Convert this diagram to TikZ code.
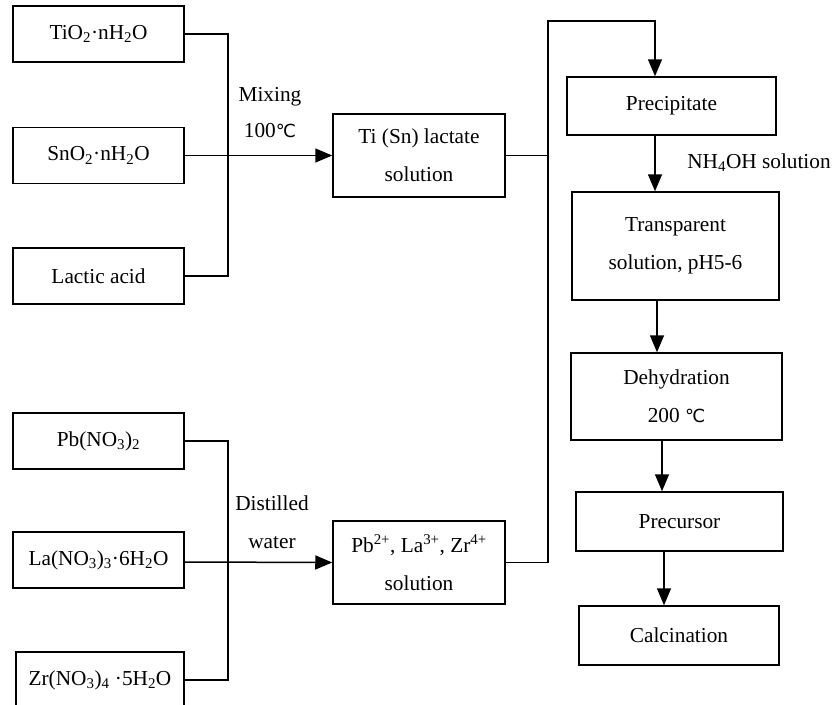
\documentclass[tikz,border=0pt]{standalone}
\usepackage{fontspec}
\setmainfont{Liberation Serif}
\newfontfamily\symfont{DejaVu Sans}
\usetikzlibrary{arrows.meta,positioning}
\newcommand{\degc}{{\symfont\fontsize{18}{20}\selectfont ℃}}
\tikzset{
  box/.style={draw, line width=1.5pt, inner sep=0pt, align=center},
  arr/.style={line width=1.5pt, -{Triangle[length=17pt,width=14pt]}},
  wire/.style={line width=1.5pt},
}

\begin{document}
\begin{tikzpicture}[x=1pt,y=-1pt,font=\fontsize{21.3}{38}\selectfont]
        \useasboundingbox (0,0) rectangle (835,704);

        % vstupy -- titan a cin
        \node[box, minimum width=171pt, minimum height=56pt] (tio) at (98.5,34) {TiO\textsubscript{2}·nH\textsubscript{2}O};
        \node[box, minimum width=171pt, minimum height=56pt] (sno) at (98.5,155.5) {SnO\textsubscript{2}·nH\textsubscript{2}O};
        \node[box, minimum width=171pt, minimum height=56pt] (lac) at (98.5,276) {Lactic acid};

        % vstupy -- olovo, lanthan, zirkon
        \node[box, minimum width=171pt, minimum height=56pt] (pbn) at (98.5,441) {Pb(NO\textsubscript{3})\textsubscript{2}};
        \node[box, minimum width=171pt, minimum height=56pt] (lan) at (98.5,560) {La(NO\textsubscript{3})\textsubscript{3}·6H\textsubscript{2}O};
        \node[box, minimum width=168pt, minimum height=56pt] (zrn) at (100,680) {Zr(NO\textsubscript{3})\textsubscript{4} ·5H\textsubscript{2}O};

        % roztoky
        \node[box, minimum width=172pt, minimum height=83pt] (tisn) at (419,155.5) {Ti (Sn) lactate\\solution};
        \node[box, minimum width=172pt, minimum height=83pt] (pbsol) at (419,562.5) {Pb\textsuperscript{2+}, La\textsuperscript{3+}, Zr\textsuperscript{4+}\\solution};

        % hlavni postup
        \node[box, minimum width=209pt, minimum height=58pt] (prec) at (671.5,106) {Precipitate};
        \node[box, minimum width=207pt, minimum height=108pt] (trans) at (675.5,246) {Transparent\\solution, pH5-6};
        \node[box, minimum width=211pt, minimum height=87pt] (dehyd) at (676.5,396.5) {Dehydration\\200 \degc};
        \node[box, minimum width=207pt, minimum height=59pt] (precur) at (679.5,521.5) {Precursor};
        \node[box, minimum width=200pt, minimum height=59pt] (calc) at (679,635.5) {Calcination};

        % popisky
        \node[align=center, font=\fontsize{21.3}{36}\selectfont] (mix) at (270,113) {Mixing\\100\degc};
        \node[align=center] (dist) at (272,522) {Distilled\\water};
        \node (nh) at (759,163) {NH\textsubscript{4}OH solution};

        % spojnice
        \coordinate (busA) at (228,155);
        \coordinate (busB) at (228,562);
        \coordinate (top) at (548,21);

        \draw[wire] (tio.east) -| (busA) |- (lac.east);
        \draw[arr] (sno.east) -- (sno.east -| tisn.west);
        \draw[wire] (pbn.east) -| (busB) |- (zrn.east);
        \draw[arr] (lan.east -| pbn.east) ++(0,2) -- (pbsol.west);

        \draw[arr] (tisn.east) -| (top) -| ([xshift=-16.5pt]prec.north);
        \draw[wire] (pbsol.east) -| (top);

        \draw[arr] ([xshift=-16.5pt]prec.south) -- ([xshift=-16.5pt]prec.south |- trans.north);
        \draw[arr] ([xshift=-18.5pt]trans.south) -- ([xshift=-18.5pt]trans.south |- dehyd.north);
        \draw[arr] ([xshift=-14.5pt]dehyd.south) -- ([xshift=-14.5pt]dehyd.south |- precur.north);
        \draw[arr] ([xshift=-15.5pt]precur.south) -- ([xshift=-15.5pt]precur.south |- calc.north);
    \end{tikzpicture}
\end{document}
